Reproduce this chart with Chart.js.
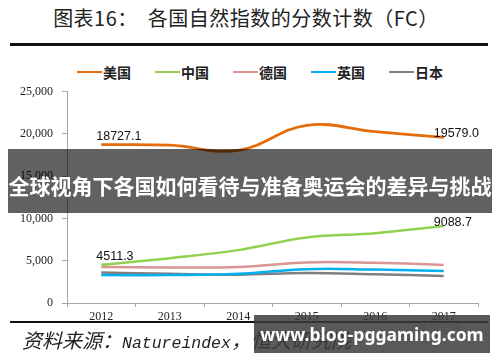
<!DOCTYPE html>
<html>
<head>
<meta charset="utf-8">
<script src="https://cdn.jsdelivr.net/npm/chart.js@4.4.0/dist/chart.umd.min.js"></script>
<style>
  body { margin: 0; background: #fff; }
  #wrap { position: relative; width: 500px; height: 362px; overflow: hidden; font-family: "Noto Sans CJK SC", sans-serif; }
  #fc { position: absolute; left: 0; top: 0; }
  .title { position: absolute; left: 0; top: 3px; width: 492px; text-align: center; font-size: 20px; color: #222; white-space: pre; letter-spacing: 0.5px; }
  .rule { position: absolute; left: 10px; width: 478px; background: #111; }
  #legend { position: absolute; left: 77px; top: 62px; display: flex; align-items: center; font-size: 14px; font-weight: bold; color: #222; }
  #legend .item { display: flex; align-items: center; margin-right: 24px; }
  #legend .swatch { width: 25px; height: 2.5px; margin-right: 1px; }
  .source { position: absolute; left: 22px; top: 325px; font-style: italic; color: #222; white-space: nowrap; }
  .source .cjk { font-size: 20px; }
  .source .lat { font-family: "Liberation Mono", monospace; font-size: 16.5px; }
  .zp { position: absolute; left: 418px; top: 320px; font-size: 11px; color: #bbb; }
  .banner { position: absolute; left: 8px; top: 149px; width: 484px; height: 64px; background: rgba(0,0,0,0.62); }
  .banner span { position: absolute; left: 0; top: 21px; width: 484px; text-align: center; color: #fff; font-size: 21px; font-weight: bold; line-height: 30px; white-space: nowrap; }
  .wm { position: absolute; left: 254px; top: 315px; width: 236px; height: 38px; background: rgba(60,60,60,0.85); color: #fff; font-family: "Noto Sans", sans-serif; font-weight: bold; font-size: 17.5px; line-height: 38px; text-align: center; }
</style>
</head>
<body>
<div id="wrap">
  <div class="title">图表16：  各国自然指数的分数计数（FC）</div>
  <div class="rule" style="top:43px;height:2.5px"></div>
  <div id="legend"></div>
  <canvas id="fc" width="500" height="362"></canvas>
  <div class="rule" style="top:321px;height:2px"></div>
  <div class="source"><span class="cjk">资料来源：</span><span class="lat">Natureindex</span><span class="cjk">，恒大研究院</span></div>
  <div class="zp">泽平宏观</div>
  <div class="banner"><span>全球视角下各国如何看待与准备奥运会的差异与挑战</span></div>
  <div class="wm">www.blog-pggaming.com</div>
</div>
<script>
const years = ['2012', '2013', '2014', '2015', '2016', '2017'];
const seriesNames = ['美国', '中国', '德国', '英国', '日本'];
const usa = [18727.1, 18650, 18050, 21000, 20250, 19579.0];
const china = [4511.3, 5300, 6250, 7750, 8250, 9088.7];
const germany = [4250, 4200, 4250, 4800, 4750, 4500];
const uk = [3300, 3300, 3450, 4000, 3950, 3780];
const japan = [3600, 3450, 3350, 3550, 3400, 3200];
const yTicks = [0, 5000, 10000, 15000, 20000, 25000];

const colors = ['#E46C0A', '#92D050', '#DA9694', '#00B0F0', '#7F7F7F'];
const allSeries = [usa, china, germany, uk, japan];
const labelled = [true, true, false, false, false];

// legend in html, built from the same names / colours
const legendEl = document.getElementById('legend');
seriesNames.forEach((name, i) => {
  const item = document.createElement('div');
  item.className = 'item';
  item.innerHTML = '<span class="swatch" style="background:' + colors[i] + '"></span><span>' + name + '</span>';
  legendEl.appendChild(item);
});

// first / last value labels for USA and China
const endLabels = {
  id: 'endLabels',
  afterDatasetsDraw(chart) {
    const ctx = chart.ctx;
    ctx.save();
    ctx.font = '12.5px "Liberation Sans", Arial, sans-serif';
    ctx.fillStyle = '#111';
    ctx.textAlign = 'left';
    ctx.textBaseline = 'middle';
    chart.data.datasets.forEach((ds, i) => {
      if (!labelled[i]) return;
      const pts = chart.getDatasetMeta(i).data;
      const n = pts.length - 1;
      ctx.fillText(ds.data[0].toFixed(1), pts[0].x - 5, pts[0].y - 8);
      ctx.fillText(ds.data[n].toFixed(1), pts[n].x - 10, pts[n].y - 4);
    });
    ctx.restore();
  }
};

const axisGrey = '#a6a6a6';
const serif = '"Liberation Serif", "Times New Roman", serif';

new Chart(document.getElementById('fc'), {
  type: 'line',
  data: {
    labels: years,
    datasets: allSeries.map((vals, i) => ({
      label: seriesNames[i],
      data: vals,
      borderColor: colors[i],
      backgroundColor: colors[i],
      borderWidth: i === 0 ? 2.8 : 2.5,
      tension: 0.4,
      pointRadius: 0,
      fill: false
    }))
  },
  options: {
    responsive: false,
    animation: false,
    events: [],
    layout: { padding: { top: 91.5, right: 22, bottom: 0, left: 0 } },
    plugins: {
      legend: { display: false },
      tooltip: { enabled: false }
    },
    scales: {
      x: {
        offset: true,
        grid: { offset: true, drawOnChartArea: false, tickLength: 4, color: axisGrey },
        border: { color: axisGrey },
        ticks: { font: { family: serif, size: 12 }, color: '#222', padding: 3, maxRotation: 0, autoSkip: false },
        afterFit: (s) => { s.height = 59; }
      },
      y: {
        min: yTicks[0],
        max: yTicks[yTicks.length - 1],
        grid: { drawOnChartArea: false, tickLength: 5, color: axisGrey },
        border: { color: axisGrey },
        ticks: { stepSize: 5000, font: { family: serif, size: 12 }, color: '#222', padding: 9 },
        afterFit: (s) => { s.width = 67; }
      }
    }
  },
  plugins: [endLabels]
});
</script>
</body>
</html>
